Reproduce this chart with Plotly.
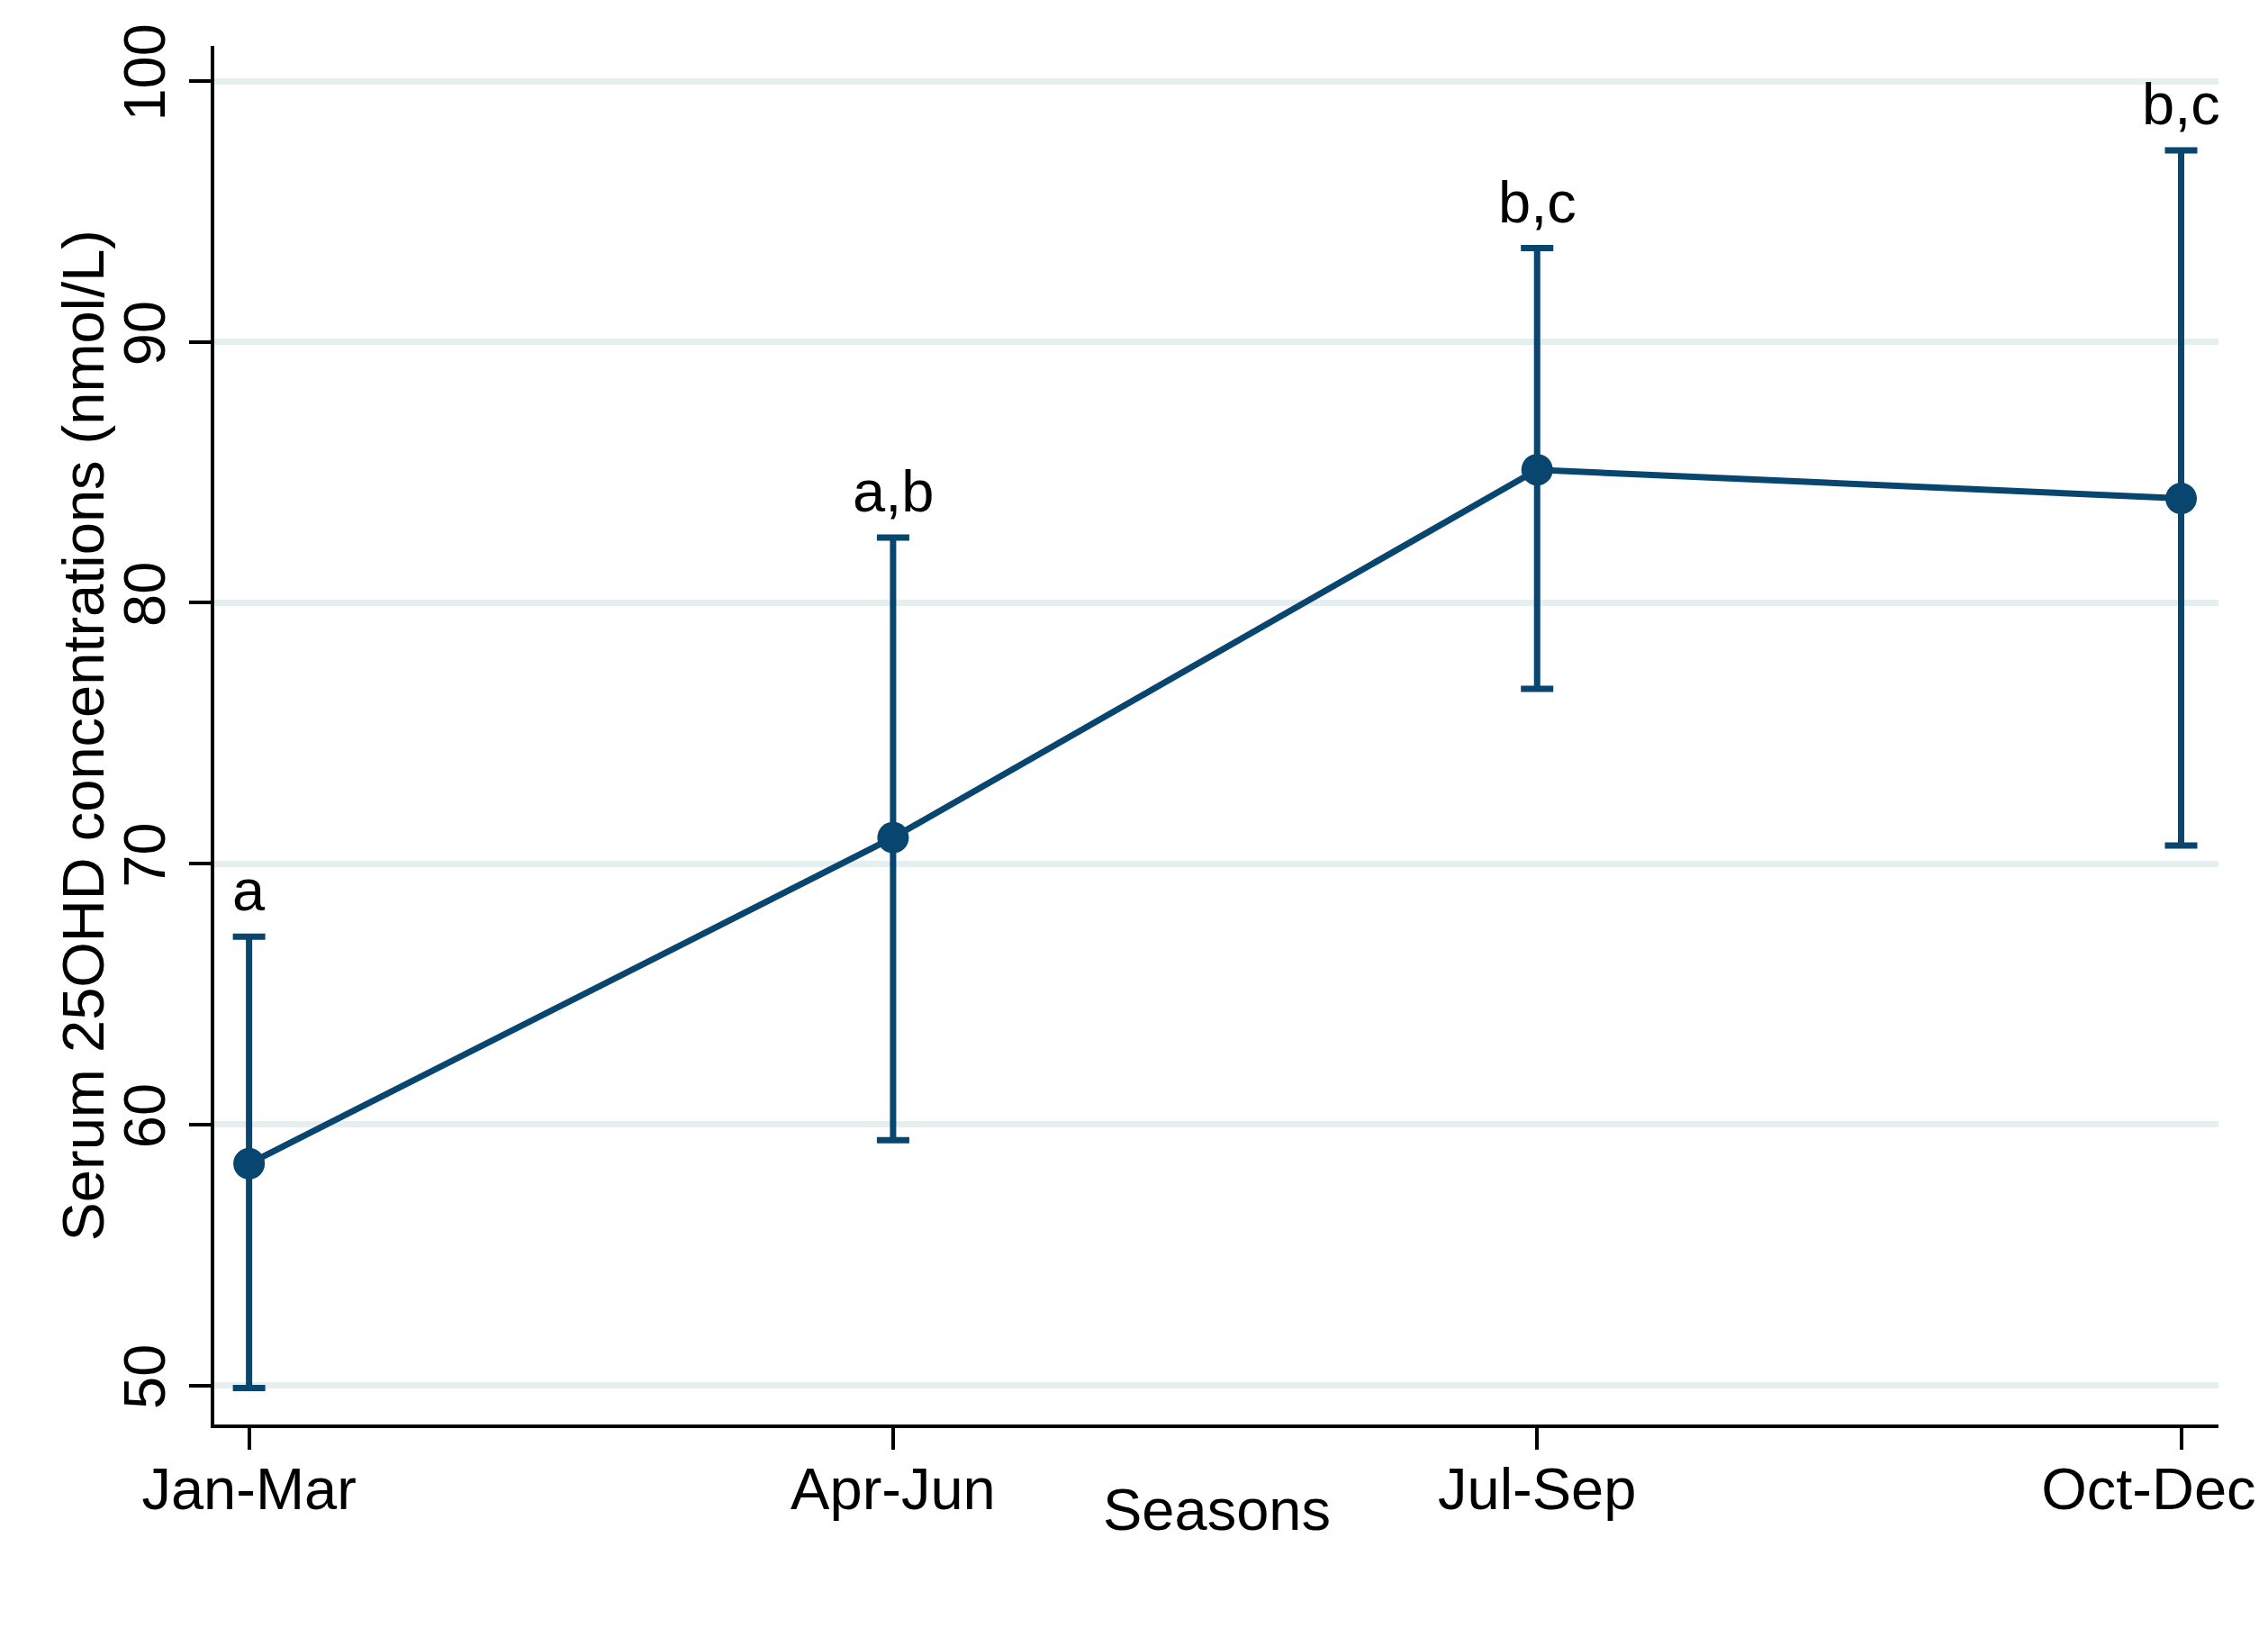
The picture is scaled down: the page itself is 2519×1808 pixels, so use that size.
import plotly.graph_objects as go

# season means with 95% CI
seasons = ["Jan-Mar", "Apr-Jun", "Jul-Sep", "Oct-Dec"]
mean_25ohd = [58.5, 71.0, 85.1, 84.0]
ci_upper = [67.2, 82.5, 93.6, 97.35]
ci_lower = [49.9, 59.4, 76.7, 70.7]
sig_letters = ["a", "a,b", "b,c", "b,c"]

navy = "#08456f"
font = "Liberation Sans, Arial, Helvetica, sans-serif"
fs = 65

xpos = list(range(len(seasons)))
err_plus = [u - m for u, m in zip(ci_upper, mean_25ohd)]
err_minus = [m - l for m, l in zip(mean_25ohd, ci_lower)]

# last label sits pulled left so it stays inside the page, like the original
tick_text = seasons[:-1] + [seasons[-1] + "\u00a0" * 4]

fig = go.Figure()
fig.add_trace(go.Scatter(
    x=xpos, y=mean_25ohd,
    mode="lines+markers",
    line=dict(color=navy, width=7),
    marker=dict(color=navy, size=35),
    error_y=dict(type="data", symmetric=False, array=err_plus, arrayminus=err_minus,
                 color=navy, thickness=7, width=18),
    showlegend=False,
))

# letters above the upper CI caps
for x, u, lab in zip(xpos, ci_upper, sig_letters):
    fig.add_annotation(x=x, y=u, text=lab, showarrow=False, yanchor="bottom",
                       yshift=13, font=dict(size=fs, color="black", family=font))

fig.add_annotation(x=0.5, y=0, xref="paper", yref="paper", text="Seasons",
                   showarrow=False, yanchor="middle", yshift=-94,
                   font=dict(size=fs, color="black", family=font))
fig.add_annotation(x=0, y=0.5, xref="paper", yref="paper",
                   text="Serum 25OHD concentrations (nmol/L)", textangle=-90,
                   showarrow=False, xanchor="center", xshift=-146,
                   font=dict(size=fs, color="black", family=font))

fig.update_layout(
    width=2519, height=1808,
    margin=dict(l=230, r=63, t=43, b=234),
    plot_bgcolor="white", paper_bgcolor="white",
    font=dict(family=font, size=fs, color="black"),
)
fig.update_xaxes(
    range=[-0.054, 3.058], tickvals=xpos, ticktext=tick_text,
    showgrid=False, zeroline=False, automargin=False,
    showline=True, linecolor="black", linewidth=4,
    ticks="outside", ticklen=24, tickwidth=4, tickcolor="black",
    tickfont=dict(size=fs), ticklabelstandoff=-12, ticklabeloverflow="allow",
)
fig.update_yaxes(
    range=[48.5, 101.35], tickvals=[50, 60, 70, 80, 90, 100], tickangle=-90,
    showgrid=True, gridcolor="#e6efef", gridwidth=7, zeroline=False, automargin=False,
    showline=True, linecolor="black", linewidth=4,
    ticks="outside", ticklen=24, tickwidth=4, tickcolor="black",
    tickfont=dict(size=fs), ticklabelstandoff=1,
)

fig.write_html("out.html")
